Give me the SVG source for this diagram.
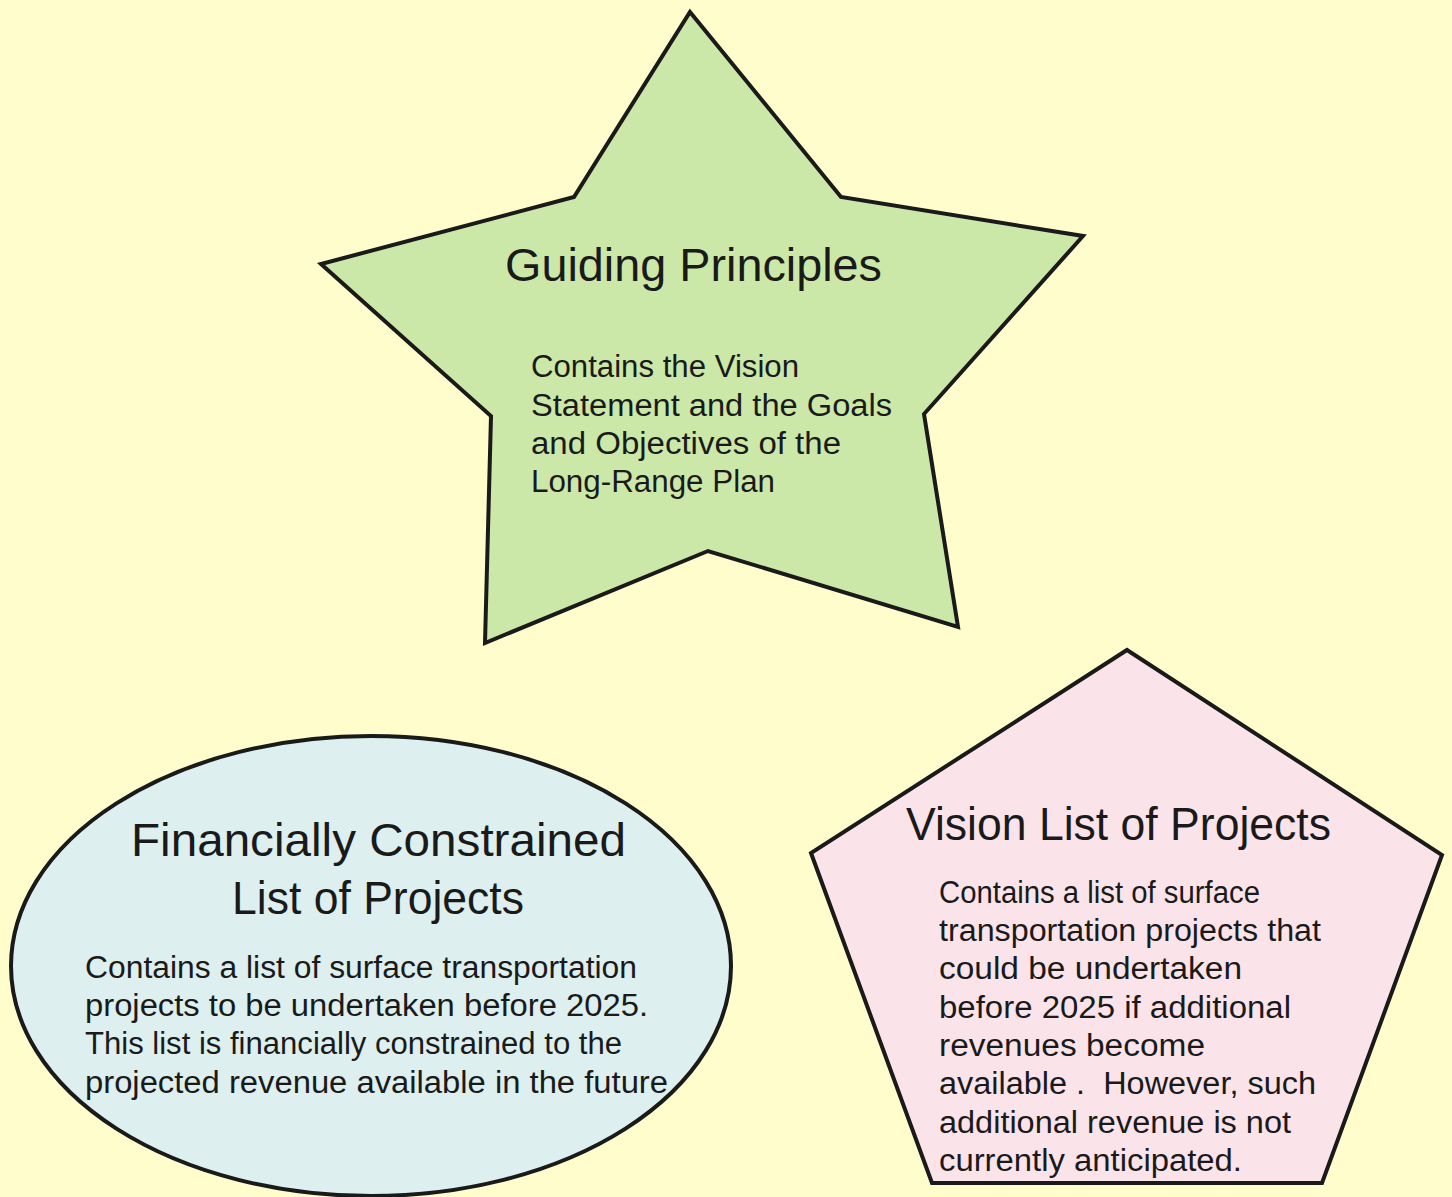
<svg xmlns="http://www.w3.org/2000/svg" width="1452" height="1197" viewBox="0 0 1452 1197">
<style>
.shape{stroke:#1a1a1a;stroke-width:4;stroke-linejoin:miter}
.t{font-family:"Liberation Sans","DejaVu Sans",sans-serif;fill:#1a1a1a}
.title{font-size:46px}
.body{font-size:31px}
</style>
<rect x="0" y="0" width="1452" height="1197" fill="#FFFDCB"/>
<g id="guiding-principles">
<polygon class="shape" fill="#CCE8A8" points="690,12 841,197 1083,236 924,414 958,627 708,551 485,643 491,416 321,264 574,197"/>
<text class="t title" x="505" y="281" textLength="377" lengthAdjust="spacingAndGlyphs">Guiding Principles</text>
<text class="t body" x="531" y="377" textLength="268" lengthAdjust="spacingAndGlyphs">Contains the Vision</text>
<text class="t body" x="531" y="416" textLength="361" lengthAdjust="spacingAndGlyphs">Statement and the Goals</text>
<text class="t body" x="531" y="454" textLength="310" lengthAdjust="spacingAndGlyphs">and Objectives of the</text>
<text class="t body" x="531" y="492" textLength="244" lengthAdjust="spacingAndGlyphs">Long-Range Plan</text>
</g>
<g id="financially-constrained">
<ellipse class="shape" fill="#DDEFEF" cx="371" cy="966" rx="360" ry="230"/>
<text class="t title" x="131" y="856" textLength="495" lengthAdjust="spacingAndGlyphs">Financially Constrained</text>
<text class="t title" x="232" y="914" textLength="292" lengthAdjust="spacingAndGlyphs">List of Projects</text>
<text class="t body" x="85" y="978" textLength="552" lengthAdjust="spacingAndGlyphs">Contains a list of surface transportation</text>
<text class="t body" x="85" y="1016" textLength="563" lengthAdjust="spacingAndGlyphs">projects to be undertaken before 2025.</text>
<text class="t body" x="85" y="1054" textLength="537" lengthAdjust="spacingAndGlyphs">This list is financially constrained to the</text>
<text class="t body" x="85" y="1093" textLength="583" lengthAdjust="spacingAndGlyphs">projected revenue available in the future</text>
</g>
<g id="vision-list">
<polygon class="shape" fill="#FAE4EA" points="1127,650 1442,855 1322,1183 932,1183 811,853"/>
<text class="t title" x="906" y="840" textLength="425" lengthAdjust="spacingAndGlyphs">Vision List of Projects</text>
<text class="t body" x="939" y="903" textLength="321" lengthAdjust="spacingAndGlyphs">Contains a list of surface</text>
<text class="t body" x="939" y="941" textLength="382" lengthAdjust="spacingAndGlyphs">transportation projects that</text>
<text class="t body" x="939" y="979" textLength="303" lengthAdjust="spacingAndGlyphs">could be undertaken</text>
<text class="t body" x="939" y="1018" textLength="352" lengthAdjust="spacingAndGlyphs">before 2025 if additional</text>
<text class="t body" x="939" y="1056" textLength="266" lengthAdjust="spacingAndGlyphs">revenues become</text>
<text class="t body" x="939" y="1094" textLength="377" lengthAdjust="spacingAndGlyphs" xml:space="preserve">available .  However, such</text>
<text class="t body" x="939" y="1133" textLength="352" lengthAdjust="spacingAndGlyphs">additional revenue is not</text>
<text class="t body" x="939" y="1171" textLength="303" lengthAdjust="spacingAndGlyphs">currently anticipated.</text>
</g>
<g id="connectors"/>
</svg>
